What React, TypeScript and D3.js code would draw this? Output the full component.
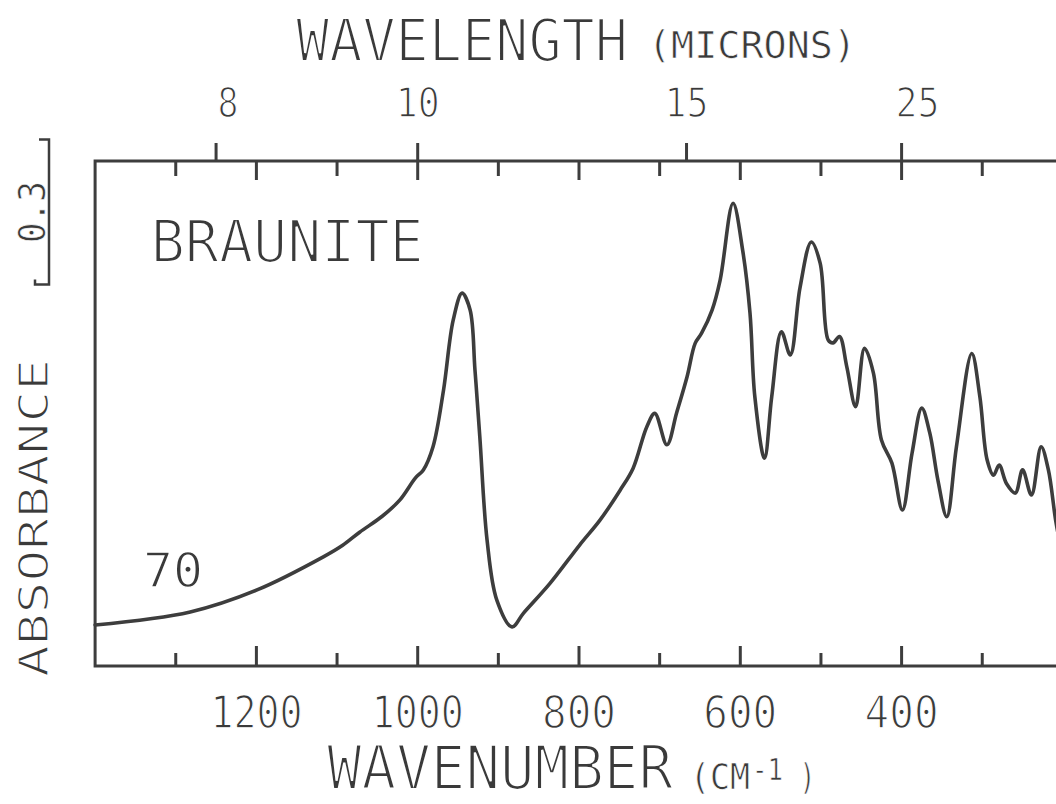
import React from 'react';
import * as d3 from 'd3';

// ---- data ----
const WAVENUMBERS = [1400, 1282, 1200, 1117, 1093, 1072, 1044, 1022, 1003, 993, 981, 968, 956, 945, 935, 929, 923, 914, 902, 883, 869, 836, 799, 774, 749, 733, 716, 706, 691, 679, 666, 656, 648, 635, 625, 609, 597, 588, 582, 570, 561, 549, 538, 526, 512, 501, 491, 485, 477, 468, 457, 446, 435, 425, 412, 399, 387, 375, 365, 355, 344, 332, 313, 303, 294, 286, 279, 270, 259, 250, 239, 227, 218, 209, 202];
const ABSORBANCE = [0.085, 0.112, 0.157, 0.226, 0.25, 0.277, 0.31, 0.344, 0.389, 0.406, 0.454, 0.571, 0.716, 0.772, 0.737, 0.613, 0.475, 0.261, 0.137, 0.081, 0.109, 0.171, 0.251, 0.302, 0.364, 0.409, 0.495, 0.523, 0.458, 0.524, 0.599, 0.668, 0.689, 0.737, 0.799, 0.958, 0.86, 0.731, 0.558, 0.43, 0.558, 0.692, 0.644, 0.783, 0.878, 0.834, 0.675, 0.669, 0.682, 0.62, 0.537, 0.658, 0.607, 0.468, 0.42, 0.323, 0.441, 0.534, 0.482, 0.385, 0.309, 0.454, 0.647, 0.558, 0.427, 0.395, 0.416, 0.378, 0.358, 0.406, 0.354, 0.454, 0.406, 0.302, 0.24];
const WN_TICKS = [1300, 1200, 1100, 1000, 900, 800, 700, 600, 500, 400, 300];
const WN_LABELS = [1200, 1000, 800, 600, 400];
const WAVELENGTH_TICKS = [8, 10, 15, 25];
const WAVELENGTH_LABELS = ['8', '10', '15', '25'];
const SCALE_BAR_VALUE = 0.3;
const SCALE_BAR_LABEL = '0.3';
const SAMPLE_NAME = 'BRAUNITE';
const SAMPLE_NUMBER = '70';

const W = 1056;
const H = 804;
const FONT = "'DejaVu Sans Mono', monospace";
const INK = '#3d3d3d';
const TEXT = '#3a3a3a';

// text thinned by painting a white outline over the glyph edges
const big = { fontFamily: FONT, fill: TEXT, stroke: '#fff', strokeWidth: 2.2, paintOrder: 'normal' as const, lengthAdjust: 'spacingAndGlyphs' };
const small = { fontFamily: FONT, fill: TEXT, stroke: '#fff', strokeWidth: 1.4, paintOrder: 'normal' as const, lengthAdjust: 'spacingAndGlyphs' };
const tiny = { fontFamily: FONT, fill: TEXT, stroke: '#fff', strokeWidth: 0.7, paintOrder: 'normal' as const, lengthAdjust: 'spacingAndGlyphs' };

export default function App() {
  const x = d3.scaleLinear().domain([1400, 200]).range([95.1, 1062.9]);
  const y = d3.scaleLinear().domain([0, 1]).range([666, 183]);
  const top = 161;
  const bottom = 666;

  const pts: [number, number][] = WAVENUMBERS.map((w, i) => [x(w), y(ABSORBANCE[i])]);
  const line = d3.line().curve(d3.curveCatmullRom.alpha(0.5))(pts) || '';

  const barBase = 0.79;
  const barX = 49;
  const yb0 = y(barBase);
  const yb1 = y(barBase + SCALE_BAR_VALUE);

  const labelDx: Record<string, number> = { '8': 12, '10': 0, '15': 0, '25': 16 };

  return (
    <svg width={W} height={H} style={{ position: 'absolute', left: 0, top: 0, background: '#fff' }}>
      <rect x={0} y={0} width={W} height={H} fill="#fff" />
      {/* frame */}
      <rect x={x(1400)} y={top} width={x(200) - x(1400)} height={bottom - top} fill="none" stroke={INK} strokeWidth={3} />
      {/* bottom ticks */}
      {WN_TICKS.map((t) => {
        const long = t % 200 === 0;
        return <line key={'b' + t} x1={x(t)} x2={x(t)} y1={bottom} y2={bottom - (long ? 20 : 13)} stroke={INK} strokeWidth={3} />;
      })}
      {/* top ticks (wavenumber, inward) */}
      {WN_TICKS.map((t) => {
        const long = t % 200 === 0;
        return <line key={'t' + t} x1={x(t)} x2={x(t)} y1={top} y2={top + (long ? 19 : 15)} stroke={INK} strokeWidth={3} />;
      })}
      {/* top ticks (wavelength, outward) */}
      {WAVELENGTH_TICKS.map((l) => (
        <line key={'w' + l} x1={x(10000 / l)} x2={x(10000 / l)} y1={top} y2={top - 18} stroke={INK} strokeWidth={3} />
      ))}
      {/* spectrum */}
      <path d={line} fill="none" stroke={INK} strokeWidth={3.6} strokeLinejoin="round" strokeLinecap="round" />

      {/* bottom tick labels */}
      {WN_LABELS.map((t) => (
        <text key={'bl' + t} x={x(t)} y={728} textAnchor="middle" fontSize={44} {...small}
          textLength={String(t).length === 4 ? 92 : 74}>{t}</text>
      ))}
      {/* top tick labels */}
      {WAVELENGTH_TICKS.map((l, i) => (
        <text key={'tl' + l} x={x(10000 / l) + labelDx[WAVELENGTH_LABELS[i]]} y={117} textAnchor="middle" fontSize={40} {...small}
          textLength={WAVELENGTH_LABELS[i].length === 2 ? 44 : 21}>{WAVELENGTH_LABELS[i]}</text>
      ))}

      {/* axis titles */}
      <text x={462} y={61} textAnchor="middle" fontSize={59} {...big} textLength={332}>WAVELENGTH</text>
      <text x={752} y={58} textAnchor="middle" fontSize={37} {...tiny} textLength={208}>(MICRONS)</text>
      <text x={500} y={789} textAnchor="middle" fontSize={60} {...big} textLength={346}>WAVENUMBER</text>
      <text x={690} y={789} fontSize={35} {...tiny} textLength={60}>(CM</text>
      <text x={752} y={780} fontSize={30} {...tiny} textLength={31}>-1</text>
      <text x={800} y={789} fontSize={35} {...tiny} textLength={15}>)</text>
      <text transform={`translate(48,518) rotate(-90)`} textAnchor="middle" fontSize={40} {...small} textLength={318}>ABSORBANCE</text>

      {/* scale bar */}
      <text transform={`translate(45,${(yb0 + yb1) / 2}) rotate(-90)`} textAnchor="middle" fontSize={38} {...tiny} textLength={62}>{SCALE_BAR_LABEL}</text>
      <path d={`M${barX - 10},${yb1} H${barX} V${yb0} H${barX - 14} V${yb0 - 5}`} fill="none" stroke={INK} strokeWidth={2.5} />

      {/* annotations */}
      <text x={150.7} y={262} fontSize={59} {...big} textLength={273}>{SAMPLE_NAME}</text>
      <text x={143} y={587} fontSize={48} {...small} textLength={60}>{SAMPLE_NUMBER}</text>
    </svg>
  );
}
